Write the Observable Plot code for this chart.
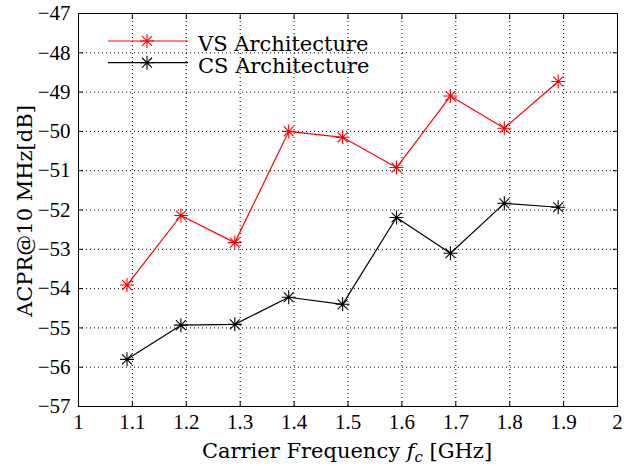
<!DOCTYPE html>
<html><head><meta charset="utf-8">
<script src="https://cdn.jsdelivr.net/npm/d3@7"></script>
<script src="https://cdn.jsdelivr.net/npm/@observablehq/plot@0.6"></script>
<style>body{margin:0;background:#fff}</style>
</head><body><div id="chart"></div>
<script>
const freq = [1.09, 1.19, 1.29, 1.39, 1.49, 1.59, 1.69, 1.79, 1.89];
const vsValues = [-53.91, -52.14, -52.83, -50.0, -50.15, -50.92, -49.10, -49.92, -48.73];
const csValues = [-55.80, -54.93, -54.91, -54.22, -54.40, -52.19, -53.10, -51.83, -51.93];
const seriesNames = ["VS Architecture", "CS Architecture"];
const seriesColors = ["#ff0000", "#000000"];
const xTicks = [1, 1.1, 1.2, 1.3, 1.4, 1.5, 1.6, 1.7, 1.8, 1.9, 2];
const yTicks = [-57, -56, -55, -54, -53, -52, -51, -50, -49, -48, -47];
const xLabel = ["Carrier Frequency ", "f", "c", " [GHz]"];
const yLabel = "ACPR@10 MHz[dB]";

const rows = [
  ...freq.map((f, i) => ({f, v: vsValues[i], s: seriesNames[0]})),
  ...freq.map((f, i) => ({f, v: csValues[i], s: seriesNames[1]}))
];

const asterisk = {
  draw(ctx, size) {
    const r = Math.sqrt(size / Math.PI);
    const d = r / Math.SQRT2;
    ctx.moveTo(0, -r); ctx.lineTo(0, r);
    ctx.moveTo(-r, 0); ctx.lineTo(r, 0);
    ctx.moveTo(-d, -d); ctx.lineTo(d, d);
    ctx.moveTo(-d, d); ctx.lineTo(d, -d);
  }
};

const TICK_FONT = "font-family:Liberation Serif;font-size:21px";
const LABEL_FONT = "font-family:DejaVu Serif;font-size:21px";

const plot = Plot.plot({
  width: 624, height: 466,
  marginLeft: 78, marginRight: 7, marginTop: 13, marginBottom: 60,
  style: {background: "#fff", color: "#000"},
  x: {domain: [1, 2]},
  y: {domain: [-57, -47]},
  color: {domain: seriesNames, range: seriesColors},
  marks: [
    Plot.gridX(xTicks, {stroke: "#000", strokeOpacity: 1, strokeDasharray: "1,3"}),
    Plot.gridY(yTicks, {stroke: "#000", strokeOpacity: 1, strokeDasharray: "1,3"}),
    Plot.axisX(xTicks, {anchor: "bottom", tickSize: 0, tickPadding: 8, label: null, tickFormat: d => String(d), fontSize: 21, fontFamily: "Liberation Serif", fontVariant: "normal"}),
    Plot.axisY(yTicks, {anchor: "left", tickSize: 0, tickPadding: 8, label: null, tickFormat: d => "\u2212" + Math.abs(d), fontSize: 21, fontFamily: "Liberation Serif", fontVariant: "normal"}),
    Plot.axisX(xTicks, {anchor: "bottom", tickSize: -5, tickFormat: () => "", label: null}),
    Plot.axisX(xTicks, {anchor: "top", tickSize: -5, tickFormat: () => "", label: null}),
    Plot.axisY(yTicks, {anchor: "left", tickSize: -5, tickFormat: () => "", label: null}),
    Plot.axisY(yTicks, {anchor: "right", tickSize: -5, tickFormat: () => "", label: null}),
    Plot.line(rows, {x: "f", y: "v", z: "s", stroke: "s", strokeWidth: 1.2}),
    Plot.dot(rows, {x: "f", y: "v", stroke: "s", fill: "none", symbol: asterisk, r: 7, strokeWidth: 1.1}),
    Plot.frame({stroke: "#000", strokeWidth: 1})
  ]
});
document.getElementById("chart").appendChild(plot);

const svg = d3.select(plot);
// force tick label font inline on every tick text
svg.selectAll("g[aria-label$='tick label'] text").attr("style", TICK_FONT).attr("font-family", "Liberation Serif");

// x label
const xl = svg.append("text").attr("x", 347).attr("y", 458).attr("text-anchor", "middle")
  .attr("style", LABEL_FONT).attr("font-family", "DejaVu Serif").attr("fill", "#000");
xl.append("tspan").text(xLabel[0]);
xl.append("tspan").text(xLabel[1]).attr("font-style", "italic");
xl.append("tspan").text(xLabel[2]).attr("font-style", "italic").attr("font-size", "15").attr("dy", "4");
xl.append("tspan").text(xLabel[3]).attr("dy", "-4");
// y label
svg.append("text").attr("transform", "translate(32,211) rotate(-90)").attr("text-anchor", "middle")
  .attr("style", LABEL_FONT).attr("font-family", "DejaVu Serif").attr("fill", "#000").text(yLabel);
// legend
const sym = d3.symbol().type(asterisk).size(Math.PI * 7 * 7);
seriesNames.forEach((name, i) => {
  const y = 41 + i * 21.7;
  const g = svg.append("g");
  g.append("line").attr("x1", 108).attr("x2", 188).attr("y1", y).attr("y2", y)
    .attr("stroke", seriesColors[i]).attr("stroke-width", 1.2);
  g.append("path").attr("d", sym()).attr("transform", `translate(147,${y})`)
    .attr("stroke", seriesColors[i]).attr("stroke-width", 1.1).attr("fill", "none");
  g.append("text").attr("x", 198).attr("y", y + 10).attr("text-anchor", "start").text(name)
    .attr("style", LABEL_FONT).attr("font-family", "DejaVu Serif").attr("fill", "#000");
});
</script>
</body></html>
